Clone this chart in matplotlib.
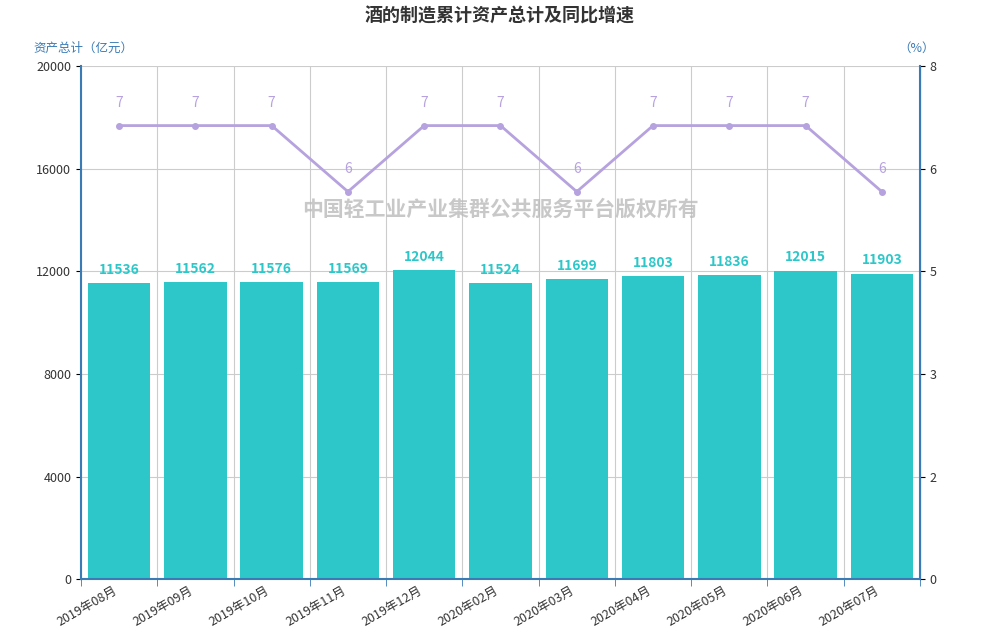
import matplotlib.pyplot as plt
from matplotlib.ticker import FixedLocator

plt.rcParams['font.family'] = ['Noto Sans CJK SC', 'DejaVu Sans']

months = ["2019年08月", "2019年09月", "2019年10月", "2019年11月", "2019年12月",
          "2020年02月", "2020年03月", "2020年04月", "2020年05月", "2020年06月", "2020年07月"]
assets = [11536, 11562, 11576, 11569, 12044, 11524, 11699, 11803, 11836, 12015, 11903]
growth = [7.07, 7.07, 7.07, 6.04, 7.07, 7.07, 6.04, 7.07, 7.07, 7.07, 6.04]

fig = plt.figure(figsize=(10, 6.4), dpi=100)
ax = fig.add_axes([0.081, 0.095, 0.839, 0.802])
ax2 = ax.twinx()

x = list(range(len(months)))
bars = ax.bar(x, assets, width=0.82, color='#2ec7c9', zorder=2)
for xi, v in zip(x, assets):
    ax.text(xi, v + 250, str(v), ha='center', va='bottom', color='#2ec7c9',
            fontsize=10, fontweight='bold')
ax.set_xlim(-0.5, len(months) - 0.5)
ax.set_ylim(0, 20000)
ax.set_yticks([0, 4000, 8000, 12000, 16000, 20000])
ax.set_yticklabels(['0', '4000', '8000', '12000', '16000', '20000'], fontsize=9, color='#333333')
ax.set_xticks(x)
ax.set_xticklabels(months, rotation=30, ha='right', fontsize=9, color='#333333')
ax.xaxis.set_minor_locator(FixedLocator([i - 0.5 for i in range(len(months) + 1)]))
ax.grid(True, which='minor', axis='x', color='#cccccc', lw=0.8, zorder=0)
ax.grid(True, which='major', axis='y', color='#cccccc', lw=0.8, zorder=0)
ax.tick_params(axis='x', which='major', length=0)
ax.tick_params(axis='x', which='minor', length=5, color='#3a7bb5')
for s in ['top']:
    ax.spines[s].set_visible(False)
    ax2.spines[s].set_visible(False)
for s in ['left', 'bottom']:
    ax.spines[s].set_color('#3a7bb5')
    ax.spines[s].set_linewidth(1.5)
ax2.spines['right'].set_color('#3a7bb5')
ax2.spines['right'].set_linewidth(1.5)
ax2.spines['left'].set_visible(False)
ax2.spines['bottom'].set_visible(False)

ax2.plot(x, growth, color='#b6a2de', lw=2, marker='o', markersize=4, zorder=3)
for xi, v in zip(x, growth):
    ax2.text(xi, v + 0.25, str(round(v)), ha='center', va='bottom', color='#b6a2de', fontsize=10)
ax2.set_ylim(0, 8)
ax2.set_yticks([0, 1.6, 3.2, 4.8, 6.4, 8])
ax2.set_yticklabels(['0', '2', '3', '5', '6', '8'], fontsize=9, color='#333333')

fig.text(0.5, 0.975, '酒的制造累计资产总计及同比增速', ha='center', va='center',
         fontsize=13, fontweight='bold', color='#333333')
fig.text(0.033, 0.925, '资产总计（亿元）', ha='left', va='center', fontsize=9, color='#3a7bb5')
fig.text(0.935, 0.925, '（%）', ha='right', va='center', fontsize=9, color='#3a7bb5')
fig.text(0.5, 0.673, '中国轻工业产业集群公共服务平台版权所有', ha='center', va='center',
         fontsize=15, fontweight='bold', color='#bbbbbb', alpha=0.8, zorder=5)

fig.savefig('out.png')
